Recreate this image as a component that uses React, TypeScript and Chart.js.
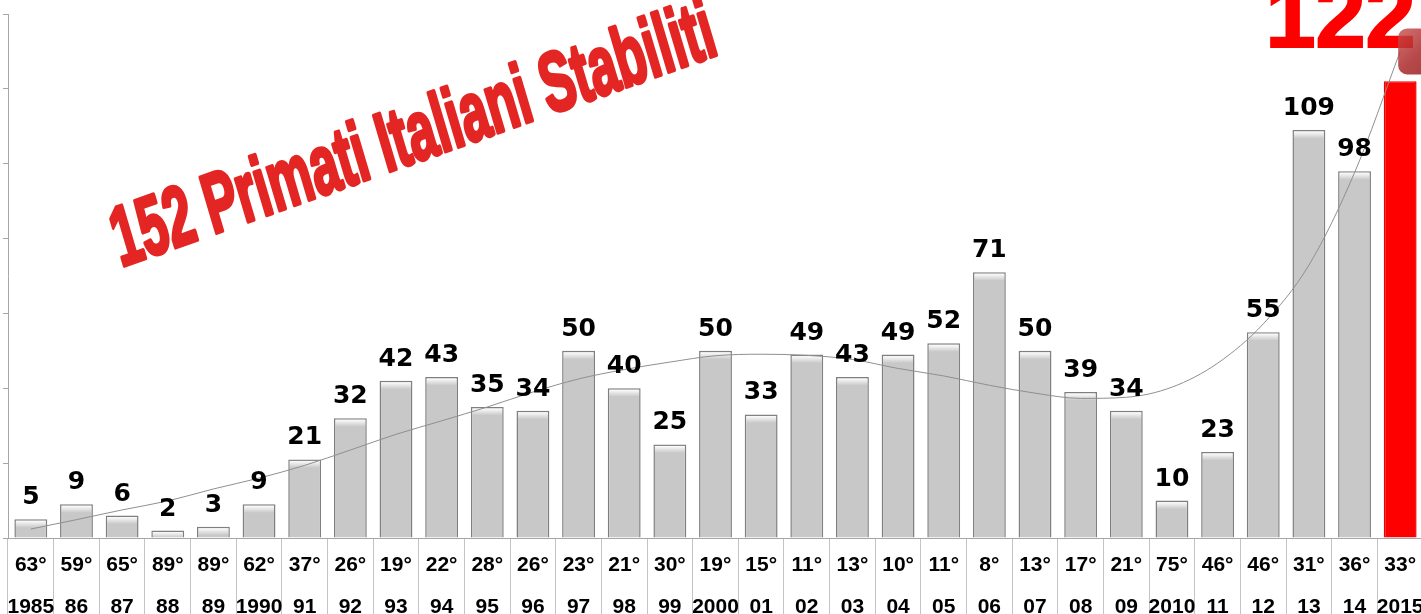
import React, { useEffect, useRef } from "react";
import { Chart, registerables } from "chart.js";

Chart.register(...registerables);

// ---- Data ----
const years = ["1985", "86", "87", "88", "89", "1990", "91", "92", "93", "94", "95", "96", "97", "98", "99", "2000", "01", "02", "03", "04", "05", "06", "07", "08", "09", "2010", "11", "12", "13", "14", "2015"];
const ranks = ["63°", "59°", "65°", "89°", "89°", "62°", "37°", "26°", "19°", "22°", "28°", "26°", "23°", "21°", "30°", "19°", "15°", "11°", "13°", "10°", "11°", "8°", "13°", "17°", "21°", "75°", "46°", "46°", "31°", "36°", "33°"];
const records = [5, 9, 6, 2, 3, 9, 21, 32, 42, 43, 35, 34, 50, 40, 25, 50, 33, 49, 43, 49, 52, 71, 50, 39, 34, 10, 23, 55, 109, 98, 122];
// polynomial trend line
const trend = [2.4, 4.9, 7.5, 9.9, 13.1, 16, 19.4, 23.5, 27.7, 31.3, 35, 39, 42.5, 45, 47, 48.7, 49.1, 48.8, 47.7, 45.3, 43.3, 40.8, 38.7, 37.3, 37.6, 40.3, 46.7, 57.2, 72.9, 97.6, 130];
const yMax = 140;
const yStep = 20;
const titleText = "152 Primati Italiani Stabiliti";

const FONT = "'Liberation Sans', Arial, Helvetica, sans-serif";
const LABEL_FONT = "'DejaVu Sans', Verdana, sans-serif";

export default function App() {
  const ref = useRef<HTMLCanvasElement>(null);

  useEffect(() => {
    const canvas = ref.current!;
    const ctx = canvas.getContext("2d")!;
    const n = records.length;
    const labels = years.map((y, i) => [ranks[i], y]);

    const barDecor = {
      id: "barDecor",
      afterDatasetDraw(chart: any, args: any) {
        if (args.index !== 1) return;
        const c = chart.ctx;
        const meta = chart.getDatasetMeta(1);
        c.save();
        meta.data.forEach((bar: any, i: number) => {
          if (i === n - 1) return;
          const w = bar.width;
          const left = bar.x - w / 2 + 1.5;
          const right = bar.x + w / 2 - 1.5;
          const top = bar.y + 1.5;
          const h = Math.min(7, bar.base - top);
          if (h <= 0) return;
          const g = c.createLinearGradient(0, top, 0, top + h);
          g.addColorStop(0, "rgba(255,255,255,0.95)");
          g.addColorStop(1, "rgba(255,255,255,0)");
          c.fillStyle = g;
          c.fillRect(left, top, right - left, h);
        });
        c.restore();
      },
    };

    const labelPlugin = {
      id: "valueLabels",
      afterDatasetsDraw(chart: any) {
        const c = chart.ctx;
        const meta = chart.getDatasetMeta(1);
        c.save();
        c.textBaseline = "alphabetic";
        meta.data.forEach((bar: any, i: number) => {
          const v = records[i];
          if (i === n - 1) {
            c.font = `bold 90px ${FONT}`;
            c.fillStyle = "#ff0000";
            c.strokeStyle = "#ff0000";
            c.lineWidth = 2;
            c.textAlign = "right";
            c.fillText(String(v), bar.x + bar.width / 2 - 1, bar.y - 34);
            c.strokeText(String(v), bar.x + bar.width / 2 - 1, bar.y - 34);
          } else {
            c.font = `bold 25px ${LABEL_FONT}`;
            c.fillStyle = "#000";
            c.textAlign = "center";
            c.fillText(String(v), bar.x, bar.y - 15);
          }
        });
        // end marker of the trend line
        const lmeta = chart.getDatasetMeta(0);
        const last: any = lmeta.data[lmeta.data.length - 1];
        if (last) {
          const s = 46;
          const cx = last.x + 21;
          const cy = last.y;
          const g = c.createLinearGradient(cx - s / 2, cy - s / 2, cx + s / 2, cy + s / 2);
          g.addColorStop(0, "rgba(200,80,80,0.8)");
          g.addColorStop(0.5, "rgba(170,40,40,0.85)");
          g.addColorStop(1, "rgba(140,30,30,0.85)");
          c.fillStyle = g;
          c.beginPath();
          (c as any).roundRect(cx - s / 2, cy - s / 2, s, s, 9);
          c.fill();
        }
        c.restore();
      },
    };

    const titlePlugin = {
      id: "wordArt",
      afterDraw(chart: any) {
        const c = chart.ctx;
        c.save();
        c.font = `bold 84px ${FONT}`;
        const w = c.measureText(titleText).width;
        const targetW = 636;
        const sx = targetW / w;
        const ang = (19.6 * Math.PI) / 180;
        const tilt = (16.5 * Math.PI) / 180;
        const a = sx * Math.cos(ang);
        const b = -sx * Math.sin(ang);
        const cc = Math.sin(tilt);
        const d = Math.cos(tilt);
        c.setTransform(a, b, cc, d, 121, 267);
        c.fillStyle = "#e32624";
        c.strokeStyle = "#e32624";
        c.lineWidth = 4;
        c.lineJoin = "round";
        c.textAlign = "left";
        c.textBaseline = "alphabetic";
        c.fillText(titleText, 0, 0);
        c.strokeText(titleText, 0, 0);
        c.restore();
      },
    };

    const chart = new Chart(ctx, {
      type: "bar",
      data: {
        labels,
        datasets: [
          {
            type: "line",
            label: "Tendenza",
            data: trend,
            borderColor: "#8f8f8f",
            borderWidth: 1,
            pointRadius: 0,
            cubicInterpolationMode: "monotone",
            fill: false,
            order: 0,
          } as any,
          {
            type: "bar",
            label: "Primati",
            data: records,
            backgroundColor: records.map((_, i) => (i === n - 1 ? "#ff0000" : "#c8c8c8")),
            borderColor: records.map((_, i) => (i === n - 1 ? "#ee0000" : "#7f7f7f")),
            borderWidth: 1.5,
            categoryPercentage: 1,
            barPercentage: 0.72,
            order: 1,
          } as any,
        ],
      },
      options: {
        animation: false,
        responsive: false,
        devicePixelRatio: 1,
        layout: { padding: { left: 3, top: 14, right: 0, bottom: 0 } },
        plugins: {
          legend: { display: false },
          tooltip: { enabled: false },
          title: { display: false },
        },
        scales: {
          x: {
            offset: true,
            grid: {
              display: true,
              offset: true,
              drawOnChartArea: false,
              drawTicks: true,
              tickLength: 76,
              color: "#c4c4c4",
            },
            border: { display: true, color: "#a6a6a6" },
            ticks: {
              autoSkip: false,
              maxRotation: 0,
              minRotation: 0,
              color: "#000",
              padding: -69.25,
              font: { family: FONT, size: 21, weight: "bold", lineHeight: 41.5 / 21 },
            },
            afterFit: (s: any) => {
              s.height = 76;
              s.paddingLeft = 0;
              s.paddingRight = 0;
            },
          },
          y: {
            min: 0,
            max: yMax,
            ticks: { display: false, stepSize: yStep },
            grid: {
              drawOnChartArea: false,
              drawTicks: true,
              tickLength: 5,
              color: "#a6a6a6",
            },
            border: { display: true, color: "#a6a6a6" },
            afterFit: (s: any) => {
              s.width = 5;
            },
          },
        },
      } as any,
      plugins: [barDecor, labelPlugin, titlePlugin],
    });

    return () => chart.destroy();
  }, []);

  return (
    <div style={{ position: "fixed", left: 0, top: 0, width: 1423, height: 614, background: "#fff", overflow: "hidden" }}>
      <canvas ref={ref} width={1423} height={614} style={{ display: "block" }} />
    </div>
  );
}
